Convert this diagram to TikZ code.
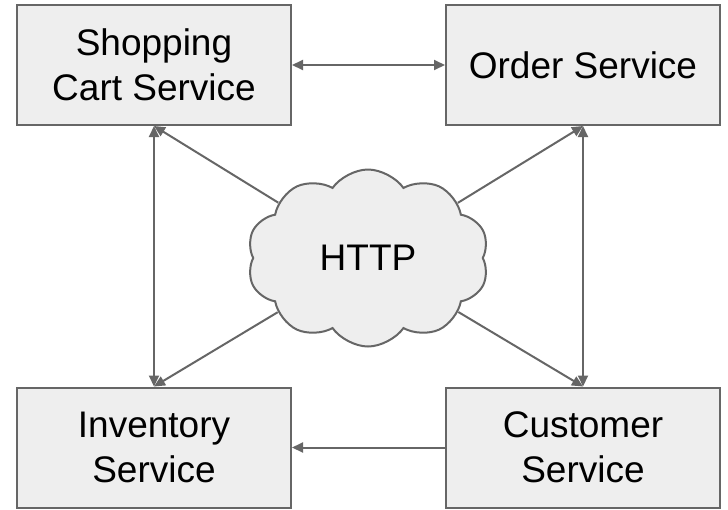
\documentclass[tikz,border=0pt]{standalone}
\usepackage{fontspec}
\setmainfont{Liberation Sans}
\usetikzlibrary{shapes.symbols,arrows.meta}
\definecolor{boxfill}{HTML}{EEEEEE}
\definecolor{boxline}{HTML}{666666}
\newcommand{\bigtext}{\fontsize{37}{45}\selectfont}

\begin{document}
\begin{tikzpicture}[x=1pt,y=-1pt,
  service/.style={draw=boxline,fill=boxfill,line width=2pt,minimum width=274pt,
    minimum height=120pt,align=center,font=\bigtext},
  link/.style={draw=boxline,line width=2pt,-{Triangle[length=11pt,width=10pt]}},
  twoway/.style={link,{Triangle[length=11pt,width=10pt]}-{Triangle[length=11pt,width=10pt]}}]
\useasboundingbox (0,0) rectangle (728,509);
% the four services
\node[service] (cart) at (154,65) {Shopping\\Cart Service};
\node[service] (order) at (583,65) {Order Service};
\node[service] (inventory) at (154,447.5) {Inventory\\Service};
\node[service] (customer) at (583,447.5) {Customer\\Service};
% http cloud in the middle
\node[cloud,cloud puffs=10,cloud puff arc=110,draw=boxline,fill=boxfill,line width=2pt,
  minimum width=242pt,minimum height=177pt,inner sep=0pt,font=\bigtext] (http) at (368,258) {HTTP};
% connections
\draw[twoway] (cart) -- (order);
\draw[twoway] (cart) -- (inventory);
\draw[twoway] (order) -- (customer);
\draw[link] (customer) -- (inventory);
\draw[link] (http) -- (cart.south);
\draw[link] (http) -- (order.south);
\draw[link] (http) -- (inventory.north);
\draw[link] (http) -- (customer.north);
\end{tikzpicture}
\end{document}
